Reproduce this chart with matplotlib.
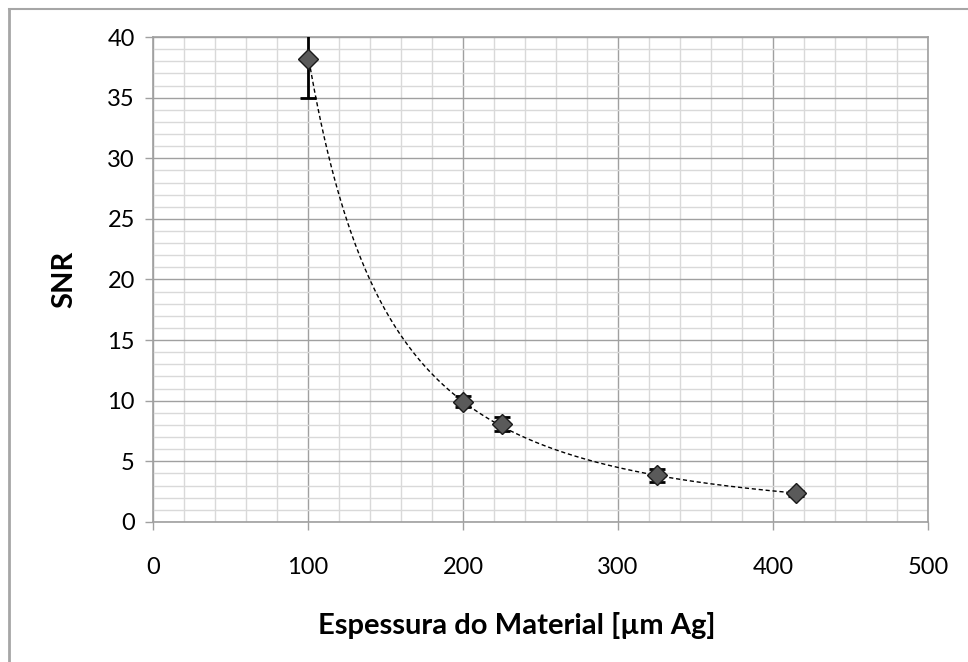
import numpy as np
import matplotlib
matplotlib.use("Agg")
import matplotlib.pyplot as plt
from matplotlib.lines import Line2D
from matplotlib.ticker import MultipleLocator

# thickness of silver layer and measured signal-to-noise ratio
thickness_um = [100, 200, 225, 325, 415]
snr = [38.2, 9.9, 8.1, 3.85, 2.35]
snr_err = [3.2, 0.45, 0.6, 0.55, 0.2]

x_ticks = [0, 100, 200, 300, 400, 500]
y_ticks = [0, 5, 10, 15, 20, 25, 30, 35, 40]

plt.rcParams["font.family"] = ["Lato", "DejaVu Sans"]

fig = plt.figure(figsize=(9.68, 6.62), dpi=100)
ax = fig.add_axes([0.158, 0.2115, 0.8007, 0.7326])

# power-law trendline y = a * x^b fitted in log space
b, log_a = np.polyfit(np.log(thickness_um), np.log(snr), 1)
xf = np.linspace(min(thickness_um), max(thickness_um), 300)
ax.plot(xf, np.exp(log_a) * xf ** b, color="black", lw=1.0,
        linestyle=(0, (3, 2)), zorder=3)

ax.errorbar(thickness_um, snr, yerr=snr_err, fmt="none",
            ecolor="black", elinewidth=2, capsize=6, capthick=2, zorder=4)
ax.plot(thickness_um, snr, "D", ms=10, mfc="#5a5a5a", mec="#1a1a1a",
        mew=1.0, zorder=5)

ax.set_xlim(0, 500)
ax.set_ylim(0, 40)
ax.set_xticks(x_ticks)
ax.set_yticks(y_ticks)
ax.xaxis.set_minor_locator(MultipleLocator(20))
ax.yaxis.set_minor_locator(MultipleLocator(1))

ax.grid(which="major", color="#a0a0a0", lw=1.0)
ax.grid(which="minor", color="#d9d9d9", lw=1.0)
ax.set_axisbelow(True)

for side in ["left", "bottom", "top", "right"]:
    ax.spines[side].set_color("#a0a0a0")
    ax.spines[side].set_linewidth(1.2)

ax.tick_params(which="major", direction="out", length=6, width=1,
               color="#a0a0a0", labelsize=17, pad=7)
ax.tick_params(axis="x", pad=19)
ax.tick_params(which="minor", length=0)

ax.set_xlabel("Espessura do Material [µm Ag]", fontsize=21,
              fontweight="bold")
ax.xaxis.set_label_coords(0.47, -0.185)
ax.set_ylabel("SNR", fontsize=21, fontweight="bold")
ax.yaxis.set_label_coords(-0.098, 0.5)

# chart-area frame
fig.add_artist(Line2D([9 / 968, 9 / 968], [0, 1 - 9 / 662],
                      transform=fig.transFigure, color="#a6a6a6", lw=2))
fig.add_artist(Line2D([9 / 968, 1], [1 - 9 / 662, 1 - 9 / 662],
                      transform=fig.transFigure, color="#a6a6a6", lw=1.5))

fig.savefig("out.png", dpi=100, facecolor="white")
